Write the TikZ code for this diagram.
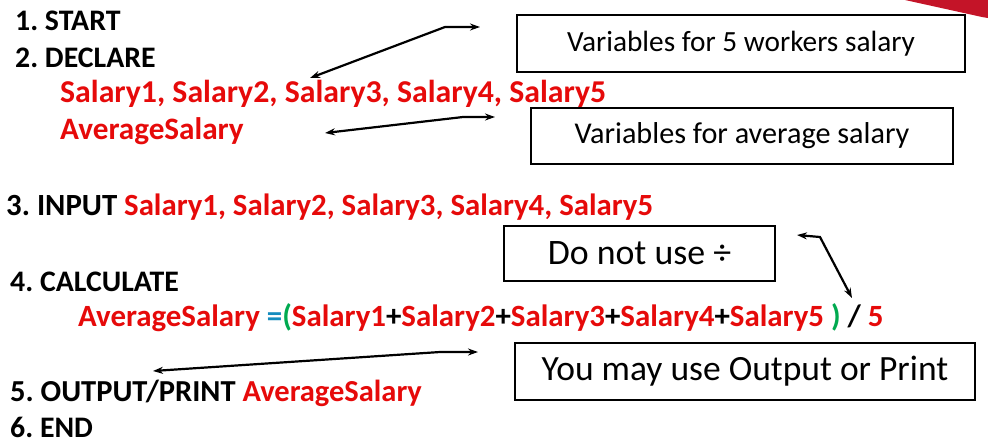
\documentclass[tikz,border=0pt]{standalone}
\usepackage{fontspec}
\setmainfont{Carlito}
\usetikzlibrary{arrows.meta}
\frenchspacing
\definecolor{cred}{RGB}{230,10,10}
\definecolor{cblue}{RGB}{20,140,190}
\definecolor{cgreen}{RGB}{0,170,80}
\definecolor{stampred}{RGB}{196,20,40}
\newcommand\fsz[1]{\fontsize{#1}{#1}\selectfont}
\newcommand\R[1]{\textcolor{cred}{#1}}
\begin{document}
\begin{tikzpicture}[x=1pt,y=-1pt,
  txt/.style={anchor=base west,inner sep=0pt,font=\bfseries},
  note/.style={draw,line width=2.8pt,inner sep=0pt},
  conn/.style={line width=2.2pt,{Stealth[length=10pt,width=7pt]}-{Stealth[length=10pt,width=7pt]}}]
\useasboundingbox (0,0) rectangle (988,440);
\fill[white] (0,0) rectangle (988,440);
\fill[stampred] (905,0) -- (988,0) -- (988,18) -- (982,17) -- cycle;
% steps
\node[txt] (s1) at (15,30) {\fsz{29.8}1. START};
\node[txt] (s2) at (15,67) {\fsz{29.8}2. DECLARE};
\node[txt,text=cred] (v1) at (60,102) {\fsz{31.8}Salary1, Salary2, Salary3, Salary4, Salary5};
\node[txt,text=cred] (v2) at (60,139) {\fsz{31.2}AverageSalary};
\node[txt] (s3) at (6,215) {\fsz{30.8}3. INPUT \R{Salary1, Salary2, Salary3, Salary4, Salary5}};
\node[txt] (s4) at (10,291) {\fsz{29.8}4. CALCULATE};
\node[txt] (f) at (78,326) {\fsz{30.9}\R{AverageSalary} \textcolor{cblue}{=}\textcolor{cgreen}{(}\R{Salary1}+\R{Salary2}+\R{Salary3}+\R{Salary4}+\R{Salary5} \textcolor{cgreen}{)} / \R{5}};
\node[txt] (s5) at (10,401) {\fsz{30.5}5. OUTPUT/PRINT \R{AverageSalary}};
\node[txt] (s6) at (10,437) {\fsz{29.8}6. END};
% boxes
\node[note,minimum width=448pt,minimum height=57pt,font=\fsz{29.3}] (b1) at (741,43.5) {Variables for 5 workers salary};
\node[note,minimum width=422pt,minimum height=56pt,font=\fsz{30.2}] (b2) at (742,136) {Variables for average salary};
\node[note,minimum width=271pt,minimum height=55pt,font=\fsz{35.8}] (b3) at (639.5,253.5) {Do not use ÷};
\node[note,minimum width=460pt,minimum height=57pt,font=\fsz{35.5}] (b4) at (745,371.5) {You may use Output or Print};
% connector points
\coordinate (a1s) at (310,78);
\coordinate (a1b) at (445,27);
\coordinate (a1e) at (480,27);
\coordinate (a2s) at (325,133);
\coordinate (a2b) at (463,117);
\coordinate (a2e) at (495,117);
\coordinate (a3s) at (797,235);
\coordinate (a3b) at (820,237);
\coordinate (a3e) at (852,298);
\coordinate (a4s) at (153,371);
\coordinate (a4b) at (440,352);
\coordinate (a4e) at (478,352);
\draw[conn] (a1s) -- (a1b) -- (a1e);
\draw[conn] (a2s) -- (a2b) -- (a2e);
\draw[conn] (a3s) -- (a3b) -- (a3e);
\draw[conn] (a4s) -- (a4b) -- (a4e);
\end{tikzpicture}
\end{document}
